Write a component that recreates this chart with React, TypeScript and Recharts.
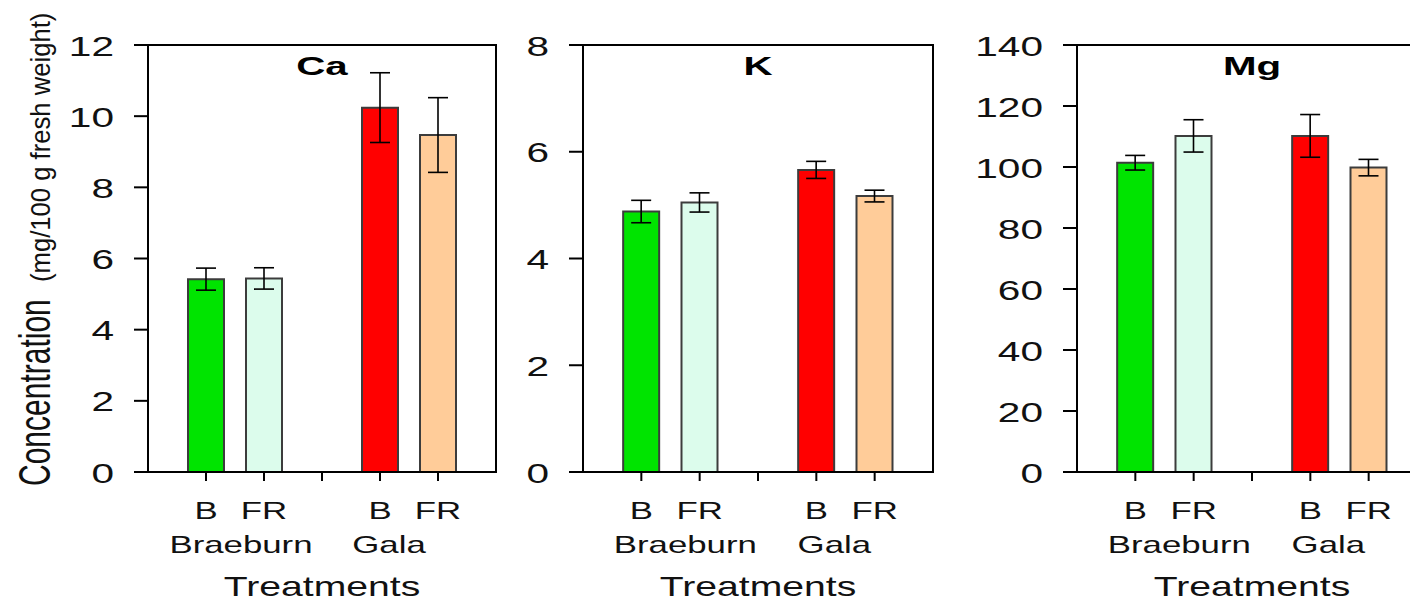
import { BarChart, Bar, XAxis, YAxis, ErrorBar, Cell, ReferenceArea, Label } from "recharts";

// x categories (the middle one is the empty gap between cultivars)
const TREATMENTS = ["B", "FR", "", "B", "FR"];
const CULTIVARS = ["Braeburn", "Braeburn", "", "Gala", "Gala"];
const BAR_COLORS = ["#00e400", "#dcfcec", "none", "#ff0000", "#ffcc99"];

// means and error (mg/100 g fresh weight)
const CA_MEAN = [5.42, 5.44, null, 10.24, 9.47];
const CA_ERR = [0.31, 0.3, null, 0.98, 1.05];
const K_MEAN = [4.88, 5.05, null, 5.66, 5.17];
const K_ERR = [0.21, 0.18, null, 0.16, 0.11];
const MG_MEAN = [101.4, 110.2, null, 110.2, 99.8];
const MG_ERR = [2.4, 5.3, null, 7.0, 2.7];

const CA_TICKS = [0, 2, 4, 6, 8, 10, 12];
const K_TICKS = [0, 2, 4, 6, 8];
const MG_TICKS = [0, 20, 40, 60, 80, 100, 120, 140];

const FONT = '"Liberation Sans", Arial, sans-serif';
const SX = 1.45; // the source figure is stretched horizontally
const GROUP_SHIFT = [44, 18];

function YTick({ x, y, payload }: any) {
  return (
    <text
      transform={`translate(${x},${y + 10.5}) scale(${SX},1)`}
      textAnchor="end"
      fontSize={28}
      fontFamily={FONT}
      fill="#111"
    >
      {payload.value}
    </text>
  );
}

function XTick({ x, y, payload, shift = 0 }: any) {
  const i = payload.value - 1;
  const cultivar = CULTIVARS[i];
  const groupStart = cultivar && cultivar !== CULTIVARS[i - 1];
  const groupIdx = CULTIVARS.filter((c, j) => c && c !== CULTIVARS[j - 1]).indexOf(cultivar);
  return (
    <g fontFamily={FONT} fill="#111">
      <text transform={`translate(${x},${y + 37.5}) scale(${SX},1)`} textAnchor="middle" fontSize={24}>
        {TREATMENTS[i]}
      </text>
      {groupStart && (
        <text
          transform={`translate(${x + GROUP_SHIFT[groupIdx] + shift},${y + 72}) scale(${SX},1)`}
          textAnchor="middle"
          fontSize={24}
        >
          {cultivar}
        </text>
      )}
      {i === 2 && (
        <text transform={`translate(${x},${y + 115}) scale(${SX},1)`} textAnchor="middle" fontSize={27}>
          Treatments
        </text>
      )}
    </g>
  );
}

function PanelTitle({ viewBox, text }: any) {
  const cx = viewBox.x + viewBox.width / 2;
  return (
    <text
      transform={`translate(${cx},${viewBox.y + 29.5}) scale(1.55,1)`}
      textAnchor="middle"
      fontSize={26}
      fontWeight="bold"
      fontFamily={FONT}
      fill="#000"
    >
      {text}
    </text>
  );
}

function YTitle() {
  return (
    <g fontFamily={FONT} fill="#111">
      <text transform={`translate(50,486) scale(${SX},1) rotate(-90)`} fontSize={30}>
        Concentration
      </text>
      <text transform={`translate(50,282) scale(${SX},1) rotate(-90) scale(1.35,1)`} fontSize={19}>
        (mg/100 g fresh weight)
      </text>
    </g>
  );
}

interface PanelProps {
  title: string;
  mean: (number | null)[];
  err: (number | null)[];
  ticks: number[];
  left: number;
  width: number;
  axisWidth: number;
  right: number;
  labelShift?: number;
  yTitle?: boolean;
}

function Panel({ title, mean, err, ticks, left, width, axisWidth, right, labelShift = 0, yTitle }: PanelProps) {
  const rows = TREATMENTS.map((t, i) => ({ pos: i + 1, name: t, value: mean[i], err: err[i] }));
  const top = ticks[ticks.length - 1];
  const line = { stroke: "#000", strokeWidth: 2 };
  return (
    <div style={{ position: "absolute", left, top: 0 }}>
      <BarChart width={width} height={602} data={rows} margin={{ top: 45, right, left: 0, bottom: 0 }}>
        <XAxis
          type="number"
          dataKey="pos"
          domain={[0, TREATMENTS.length + 1]}
          ticks={TREATMENTS.map((_, i) => i + 1)}
          height={130}
          tickSize={9}
          tickMargin={0}
          axisLine={line}
          tickLine={line}
          tick={<XTick shift={labelShift} />}
        />
        <YAxis
          type="number"
          domain={[0, top]}
          ticks={ticks}
          width={axisWidth}
          tickSize={14}
          tickMargin={20}
          axisLine={line}
          tickLine={line}
          tick={<YTick />}
        >
          {yTitle && <Label content={<YTitle />} />}
        </YAxis>
        <ReferenceArea
          y1={0}
          y2={top}
          fill="none"
          stroke="#000"
          strokeWidth={2}
          label={<PanelTitle text={title} />}
        />
        <Bar dataKey="value" barSize={36} stroke="#3c3c3c" strokeWidth={2} isAnimationActive={false}>
          {rows.map((r, i) => (
            <Cell key={i} fill={BAR_COLORS[i]} />
          ))}
          <ErrorBar dataKey="err" direction="y" width={10} stroke="#000" strokeWidth={1.6} />
        </Bar>
      </BarChart>
    </div>
  );
}

export default function App() {
  return (
    <div
      style={{
        position: "fixed",
        left: 0,
        top: 0,
        width: 1410,
        height: 602,
        overflow: "hidden",
        background: "#fff",
      }}
    >
      <Panel title="Ca" mean={CA_MEAN} err={CA_ERR} ticks={CA_TICKS} left={0} width={520} axisWidth={148} right={24} labelShift={-9} yTitle />
      <Panel title="K" mean={K_MEAN} err={K_ERR} ticks={K_TICKS} left={520} width={440} axisWidth={63} right={27} />
      <Panel title="Mg" mean={MG_MEAN} err={MG_ERR} ticks={MG_TICKS} left={960} width={480} axisWidth={117} right={13} />
    </div>
  );
}
